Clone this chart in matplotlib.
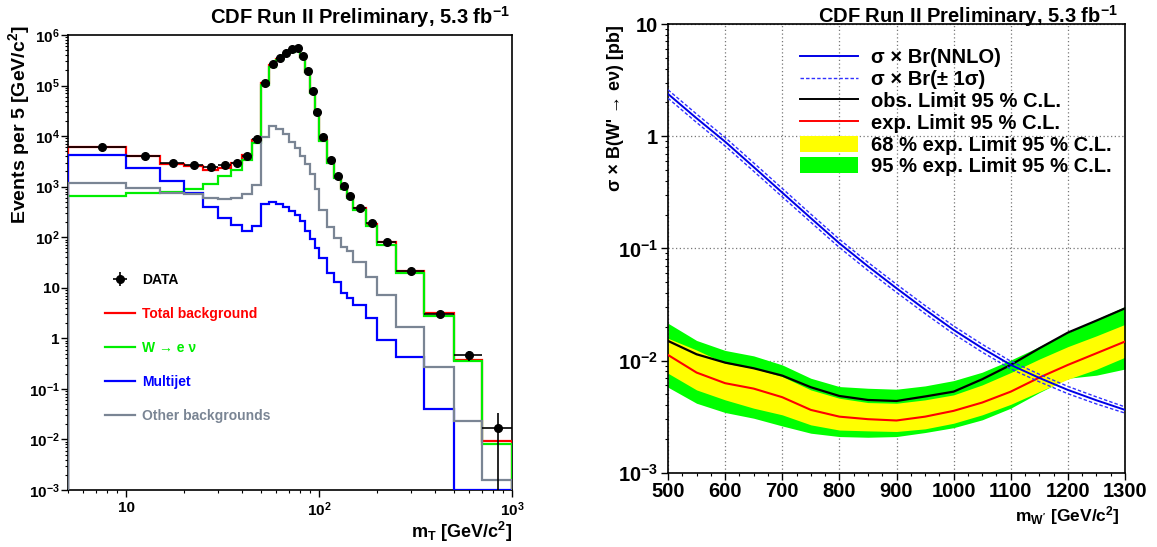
import numpy as np
import matplotlib
matplotlib.use("Agg")
import matplotlib.pyplot as plt
from matplotlib.ticker import FixedLocator, FuncFormatter, NullFormatter, LogLocator, MultipleLocator
from matplotlib.patches import Patch
from matplotlib.lines import Line2D

plt.rcParams['font.family'] = ['Liberation Sans', 'DejaVu Sans']
plt.rcParams['font.weight'] = 'bold'
plt.rcParams['mathtext.fontset'] = 'custom'
plt.rcParams['mathtext.rm'] = 'Liberation Sans:bold'
plt.rcParams['mathtext.bf'] = 'Liberation Sans:bold'
plt.rcParams['mathtext.it'] = 'Liberation Sans:bold'
plt.rcParams['mathtext.sf'] = 'Liberation Sans:bold'

# ---- left: transverse mass distribution (events per 5 GeV/c^2) ----
mt_edges = [5, 10, 15, 20, 25, 30, 35, 40, 45, 50, 55, 60, 65, 70, 75, 80, 85, 90, 95, 100,
            110, 120, 130, 140, 150, 175, 200, 250, 350, 500, 700, 1000]

data = [6100, 4060, 3000, 2700, 2400, 2650, 3000, 4060, 8700,
        1.14e5, 2.63e5, 3.46e5, 4.35e5, 5.2e5, 5.46e5, 3.85e5, 1.97e5, 7.8e4, 2.97e4,
        9800, 3390, 1660, 1040, 668, 376, 190, 79.6, 21.9, 3.0, 0.46, 0.017]
data_err = [78, 64, 55, 52, 49, 51, 55, 64, 93,
            338, 513, 588, 660, 721, 739, 620, 444, 279, 172,
            70, 41, 29, 23, 18, 8.7, 6.2, 2.8, 1.05, 0.32, 0.107, 0.0168]

total_bkg = [6200, 4060, 2850, 2600, 2140, 2300, 2900, 4200, 8500,
             1.13e5, 2.53e5, 3.34e5, 4.11e5, 4.78e5, 5.06e5, 3.64e5, 1.86e5, 7.4e4, 2.8e4,
             8500, 3080, 1580, 960, 650, 387, 182, 79, 21, 3.2, 0.38, 0.0095]

w_enu = [660, 760, 790, 900, 1120, 1590, 2140, 3390, 7240,
         1.03e5, 2.37e5, 3.2e5, 4.0e5, 4.7e5, 5.0e5, 3.6e5, 1.83e5, 7.2e4, 2.7e4,
         8100, 2900, 1480, 890, 590, 347, 163, 71, 19.5, 2.8, 0.35, 0.0081]

multijet = [4190, 2350, 1300, 740, 405, 238, 176, 135, 170,
            450, 500, 450, 394, 332, 276, 210, 134, 91, 60,
            39, 20, 13, 7.8, 6.3, 4.5, 2.5, 0.93, 0.42, 0.04, 1e-3, 1e-3]

other_bkg = [1205, 933, 760, 710, 590, 566, 600, 710, 1090,
             9470, 15500, 13800, 10900, 7800, 5730, 4060, 2830, 1790, 890,
             347, 159, 96, 63, 53.6, 33, 16.5, 7.1, 1.67, 0.27, 0.023, 0.0016]

# ---- right: cross section limits vs W' mass ----
mass = [500, 550, 600, 650, 700, 750, 800, 850, 900, 950, 1000, 1050, 1100, 1150, 1200, 1250, 1300]
obs_limit = [0.01496, 0.01137, 0.00958, 0.00853, 0.00734, 0.00578, 0.00483, 0.00445, 0.00436,
             0.00478, 0.00528, 0.00681, 0.00914, 0.01285, 0.01774, 0.0227, 0.0292]
exp_limit = [0.01121, 0.00781, 0.00628, 0.00562, 0.00471, 0.00363, 0.00316, 0.0030, 0.00292,
             0.00316, 0.00356, 0.00422, 0.00528, 0.00705, 0.00914, 0.01161, 0.01476]
band68_hi = [0.0158, 0.0124, 0.00946, 0.00853, 0.0072, 0.00547, 0.00461, 0.00422, 0.00416,
             0.00446, 0.00494, 0.00606, 0.00781, 0.0103, 0.0133, 0.0166, 0.021]
band68_lo = [0.0077, 0.00547, 0.00446, 0.00376, 0.00328, 0.00267, 0.0024, 0.00236, 0.00233,
             0.00246, 0.00276, 0.00328, 0.00407, 0.00528, 0.00681, 0.00835, 0.0107]
band95_hi = [0.0215, 0.0151, 0.0123, 0.011, 0.00914, 0.00695, 0.00586, 0.00566, 0.00555,
             0.00594, 0.00662, 0.00787, 0.0101, 0.0133, 0.0177, 0.0233, 0.0303]
band95_lo = [0.00578, 0.00416, 0.00344, 0.00306, 0.00261, 0.00225, 0.0021, 0.00207, 0.0021,
             0.00228, 0.00252, 0.00296, 0.00376, 0.00518, 0.00695, 0.0074, 0.0084]
xsec_nnlo = [2.38, 1.445, 0.893, 0.531, 0.314, 0.186, 0.111, 0.0692, 0.0441, 0.0285, 0.01875,
             0.0129, 0.00914, 0.0070, 0.00547, 0.00442, 0.00363]
xsec_up = [2.59, 1.575, 0.973, 0.578, 0.342, 0.202, 0.1205, 0.0751, 0.0478, 0.0309, 0.0203,
           0.01395, 0.00986, 0.00754, 0.00588, 0.00474, 0.00386]
xsec_dn = [2.18, 1.325, 0.818, 0.487, 0.288, 0.171, 0.1018, 0.0635, 0.0405, 0.0262, 0.01725,
           0.01188, 0.00842, 0.00646, 0.00506, 0.0041, 0.0034]

c_red = '#ff0000'
c_green = '#00ee00'
c_blue = '#0000ff'
c_gray = '#7a8594'


def pow10_label(v, p):
    k = int(round(np.log10(v)))
    if k == 0:
        return '1'
    if k == 1:
        return '10'
    return r'$10^{%d}$' % k


W, H = 1157, 547
fig = plt.figure(figsize=(W / 100, H / 100), dpi=100)

# left panel
ax1 = fig.add_axes([68 / W, 1 - 490 / H, (512 - 68) / W, (490 - 35) / H])
ax1.set_xscale('log')
ax1.set_yscale('log')

edges = np.array(mt_edges, dtype=float)
ax1.stairs(total_bkg, edges, baseline=1e-5, color=c_red, lw=1.6, zorder=3)
ax1.stairs(w_enu, edges, baseline=1e-5, color=c_green, lw=1.6, zorder=3)
ax1.stairs(multijet, edges, baseline=1e-5, color=c_blue, lw=1.6, zorder=3)
ax1.stairs(other_bkg, edges, baseline=1e-5, color=c_gray, lw=1.6, zorder=3)

centers = 0.5 * (edges[:-1] + edges[1:])
halfw = 0.5 * (edges[1:] - edges[:-1])
h_data = ax1.errorbar(centers, data, xerr=halfw, yerr=data_err, fmt='o', color='black',
                      ms=5.5, lw=1.2, capsize=0, zorder=5)

ax1.set_xlim(5, 1000)
ax1.set_ylim(1e-3, 1e6)

ax1.yaxis.set_major_locator(FixedLocator([10.0 ** k for k in range(-3, 7)]))
ax1.yaxis.set_major_formatter(FuncFormatter(pow10_label))
ax1.yaxis.set_minor_locator(LogLocator(base=10, subs=np.arange(2, 10), numticks=30))
ax1.yaxis.set_minor_formatter(NullFormatter())
ax1.xaxis.set_major_locator(FixedLocator([10, 100, 1000]))
ax1.xaxis.set_major_formatter(FuncFormatter(pow10_label))
ax1.xaxis.set_minor_locator(LogLocator(base=10, subs=np.arange(2, 10), numticks=30))
ax1.xaxis.set_minor_formatter(NullFormatter())
ax1.tick_params(which='major', direction='out', length=4.8, width=1.0, labelsize=11, pad=1)
ax1.tick_params(which='minor', direction='out', length=2.4, width=0.8)
ax1.tick_params(axis='x', which='major', pad=3)
for s in ax1.spines.values():
    s.set_linewidth(1.2)

leg1_handles = [h_data,
                Line2D([], [], color=c_red, lw=1.6),
                Line2D([], [], color=c_green, lw=1.6),
                Line2D([], [], color=c_blue, lw=1.6),
                Line2D([], [], color=c_gray, lw=1.6)]
leg1_labels = ['DATA', 'Total background', 'W → e ν', 'Multijet', 'Other backgrounds']
ax1.legend(leg1_handles, leg1_labels, loc='upper left', bbox_to_anchor=(0.083, 0.478),
           frameon=False, fontsize=10, handlelength=2.2, handletextpad=0.45,
           labelspacing=1.45, borderpad=0, borderaxespad=0,
           labelcolor=['black', c_red, c_green, c_blue, c_gray])

fig.text(510 / W, 1 - 17 / H, r'CDF Run II Preliminary, 5.3 fb$^{-1}$', ha='right', va='center',
         fontsize=14.5, fontweight='bold')
fig.text(19 / W, 1 - 25 / H, r'Events per 5 [GeV/c$^{2}$]', rotation=90, ha='center', va='top',
         fontsize=14, fontweight='bold')
fig.text(512 / W, 1 - 532 / H, r'm$_{T}$ [GeV/c$^{2}$]', ha='right', va='center',
         fontsize=13, fontweight='bold')

# right panel
ax2 = fig.add_axes([668 / W, 1 - 472.7 / H, (1125 - 668) / W, (472.7 - 24) / H])
ax2.set_yscale('log')
ax2.fill_between(mass, band95_lo, band95_hi, color='#00ff00', lw=0, zorder=2)
ax2.fill_between(mass, band68_lo, band68_hi, color='#ffff00', lw=0, zorder=2.1)
ax2.plot(mass, exp_limit, color=c_red, lw=1.5, zorder=3)
ax2.plot(mass, obs_limit, color='black', lw=1.6, zorder=3.1)
ax2.plot(mass, xsec_up, color='#3030ff', lw=1.0, ls=(0, (2.5, 1.5)), zorder=4)
ax2.plot(mass, xsec_dn, color='#3030ff', lw=1.0, ls=(0, (2.5, 1.5)), zorder=4)
ax2.plot(mass, xsec_nnlo, color='#0000e6', lw=1.4, zorder=4.1)

ax2.set_xlim(500, 1300)
ax2.set_ylim(1e-3, 10)
ax2.set_axisbelow(True)
ax2.grid(True, which='major', ls=(0, (1, 2)), color='#777777', lw=0.9)
ax2.xaxis.set_major_locator(MultipleLocator(100))
ax2.xaxis.set_minor_locator(MultipleLocator(25))
ax2.yaxis.set_major_locator(FixedLocator([1e-3, 1e-2, 1e-1, 1, 10]))
ax2.yaxis.set_major_formatter(FuncFormatter(pow10_label))
ax2.yaxis.set_minor_locator(LogLocator(base=10, subs=np.arange(2, 10), numticks=30))
ax2.yaxis.set_minor_formatter(NullFormatter())
ax2.tick_params(which='major', direction='out', length=5, width=1.0, labelsize=14.5, pad=2)
ax2.tick_params(which='minor', direction='out', length=2.4, width=0.8)
for s in ax2.spines.values():
    s.set_linewidth(1.2)

leg2_handles = [Line2D([], [], color='#0000e6', lw=1.4),
                Line2D([], [], color='#3030ff', lw=1.0, ls=(0, (2.5, 1.5))),
                Line2D([], [], color='black', lw=1.4),
                Line2D([], [], color=c_red, lw=1.4),
                Patch(facecolor='#ffff00', edgecolor='none'),
                Patch(facecolor='#00ff00', edgecolor='none')]
leg2_labels = ['σ × Br(NNLO)', 'σ × Br(± 1σ)', 'obs. Limit 95 % C.L.', 'exp. Limit 95 % C.L.',
               '68 % exp. Limit 95 % C.L.', '95 % exp. Limit 95 % C.L.']
ax2.legend(leg2_handles, leg2_labels, loc='upper left', bbox_to_anchor=(0.289, 0.946),
           frameon=False, fontsize=14.5, handlelength=2.9, handleheight=0.85, handletextpad=0.6,
           labelspacing=0.14, borderpad=0, borderaxespad=0)

fig.text(1118 / W, 1 - 16 / H, r'CDF Run II Preliminary, 5.3 fb$^{-1}$', ha='right', va='center',
         fontsize=14.5, fontweight='bold')
fig.text(616 / W, 1 - 25 / H, "σ × B(W' → eν) [pb]", rotation=90, ha='center', va='top',
         fontsize=13, fontweight='bold')
fig.text(1120 / W, 1 - 516 / H, r"m$_{W'}$ [GeV/c$^{2}$]", ha='right', va='center',
         fontsize=12.5, fontweight='bold')

fig.savefig('out.png', dpi=100)
